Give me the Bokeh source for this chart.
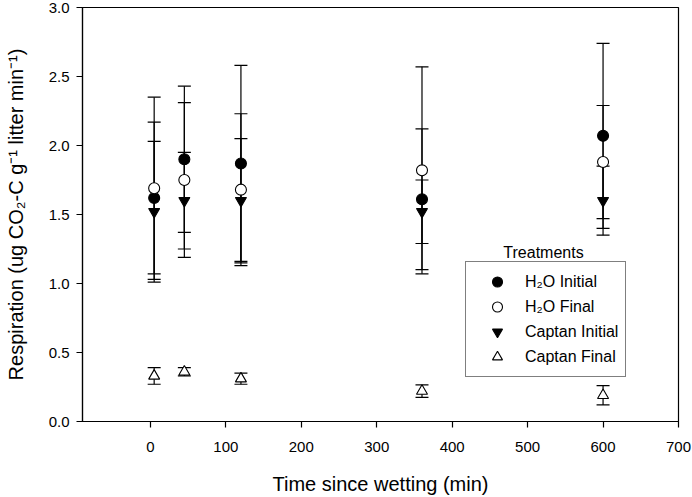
from bokeh.plotting import figure
from bokeh.models import (Range1d, FixedTicker, PrintfTickFormatter, Whisker, TeeHead,
                          ColumnDataSource, Legend, LegendItem, Label)
from bokeh.embed import file_html
from bokeh.resources import INLINE

# ---- data ----
time_min = [5, 45, 120, 360, 600]
h2o_initial = [1.62, 1.90, 1.87, 1.61, 2.07]
h2o_initial_err = [0.55, 0.53, 0.71, 0.51, 0.67]
h2o_final = [1.69, 1.75, 1.68, 1.82, 1.88]
h2o_final_err = [0.66, 0.56, 0.55, 0.75, 0.41]
captan_initial = [1.52, 1.60, 1.60, 1.52, 1.60]
captan_initial_err = [0.51, 0.35, 0.45, 0.23, 0.25]
captan_final = [0.33, 0.36, 0.31, 0.22, 0.19]
captan_final_err = [0.06, 0.03, 0.04, 0.045, 0.07]

x_ticks = [0, 100, 200, 300, 400, 500, 600, 700]
y_ticks = [0.0, 0.5, 1.0, 1.5, 2.0, 2.5, 3.0]

FONT = "Liberation Sans"

p = figure(width=692, height=497, output_backend="svg", toolbar_location=None,
           x_range=Range1d(-90, 700), y_range=Range1d(0, 3),
           min_border_left=82, min_border_right=14, min_border_top=7, min_border_bottom=73)
p.background_fill_color = "white"
p.border_fill_color = "white"
p.xgrid.visible = False
p.ygrid.visible = False
p.outline_line_color = "black"
p.outline_line_width = 1.2

for ax in (p.xaxis[0], p.yaxis[0]):
    ax.axis_line_color = "black"
    ax.axis_line_width = 1.2
    ax.major_tick_line_color = "black"
    ax.major_tick_line_width = 1.2
    ax.major_tick_out = 6
    ax.major_tick_in = 0
    ax.minor_tick_line_color = None
    ax.major_label_text_font = FONT
    ax.major_label_text_font_size = "15px"
    ax.major_label_text_color = "black"
    ax.axis_label_text_font = FONT
    ax.axis_label_text_font_style = "normal"
    ax.axis_label_text_color = "black"

p.xaxis[0].ticker = FixedTicker(ticks=x_ticks)
p.yaxis[0].ticker = FixedTicker(ticks=y_ticks)
p.yaxis[0].formatter = PrintfTickFormatter(format="%.1f")
p.xaxis[0].major_label_standoff = 14
p.yaxis[0].major_label_standoff = 7

p.xaxis[0].axis_label = "Time since wetting (min)"
p.xaxis[0].axis_label_text_font_size = "20px"
p.xaxis[0].axis_label_standoff = 18

p.yaxis[0].axis_label = "Respiration (ug CO\u2082-C g\u207b\u00b9 litter min\u207b\u00b9)"
p.yaxis[0].axis_label_text_font_size = "20px"
p.yaxis[0].axis_label_standoff = 19

series = [
    (h2o_initial, h2o_initial_err, "circle", "black", "H\u2082O Initial"),
    (h2o_final, h2o_final_err, "circle", "white", "H\u2082O Final"),
    (captan_initial, captan_initial_err, "inverted_triangle", "black", "Captan Initial"),
    (captan_final, captan_final_err, "triangle", "white", "Captan Final"),
]

# error bars first
for vals, errs, marker, fill, name in series:
    src = ColumnDataSource(dict(x=time_min,
                                upper=[v + e for v, e in zip(vals, errs)],
                                lower=[v - e for v, e in zip(vals, errs)]))
    w = Whisker(base="x", upper="upper", lower="lower", source=src, dimension="height",
                line_color="black", line_width=1.2,
                upper_head=TeeHead(size=13, line_color="black", line_width=1.2),
                lower_head=TeeHead(size=13, line_color="black", line_width=1.2))
    p.add_layout(w)

items = []
for vals, errs, marker, fill, name in series:
    src = ColumnDataSource(dict(x=time_min, y=vals))
    r = p.scatter("x", "y", source=src, marker=marker, size=11,
                  fill_color=fill, line_color="black", line_width=1.1)
    items.append(LegendItem(label=name, renderers=[r]))

legend = Legend(items=items, location=(383, 44), orientation="vertical",
                glyph_width=48, glyph_height=25, label_height=25, spacing=0,
                padding=7, margin=0, label_standoff=4,
                label_text_font=FONT, label_text_font_size="16px", label_text_color="black",
                border_line_color="black", border_line_width=1.2,
                background_fill_color="white", background_fill_alpha=1.0)
p.add_layout(legend, "center")

p.add_layout(Label(x=461, y=169.5, x_units="screen", y_units="screen", text="Treatments",
                   text_font=FONT, text_font_size="16px", text_align="center",
                   text_baseline="alphabetic", text_color="black"))

open("out.html", "w").write(file_html(p, INLINE))
